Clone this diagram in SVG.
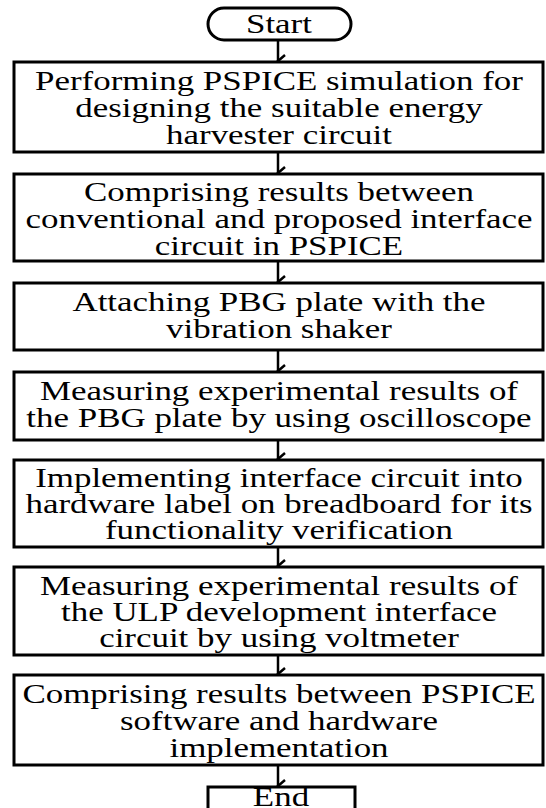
<svg xmlns="http://www.w3.org/2000/svg" width="546" height="808" viewBox="0 0 546 808">
<style>
.b{fill:#fff;stroke:#000;stroke-width:3}
.c{stroke:#000;stroke-width:2.5;fill:none}
</style>
<defs>
<marker id="ah" markerWidth="14" markerHeight="10" refX="7" refY="8" orient="auto" markerUnits="userSpaceOnUse" viewBox="0 0 14 10">
<path d="M1,1 L7,8 L13,1" fill="none" stroke="#000" stroke-width="2.5"/>
</marker>
</defs>
<rect width="546" height="808" fill="#fff"/>
<g id="connectors">
<line class="c" x1="278" y1="40" x2="278" y2="61" marker-end="url(#ah)"/>
<line class="c" x1="278" y1="152" x2="278" y2="173" marker-end="url(#ah)"/>
<line class="c" x1="278" y1="261" x2="278" y2="282" marker-end="url(#ah)"/>
<line class="c" x1="278" y1="350" x2="278" y2="371" marker-end="url(#ah)"/>
<line class="c" x1="278" y1="440" x2="278" y2="459" marker-end="url(#ah)"/>
<line class="c" x1="278" y1="547" x2="278" y2="566" marker-end="url(#ah)"/>
<line class="c" x1="278" y1="655" x2="278" y2="674" marker-end="url(#ah)"/>
<line class="c" x1="278" y1="765" x2="278" y2="786" marker-end="url(#ah)"/>
</g>
<g id="start">
<rect class="b" x="208" y="8" width="143" height="32" rx="16"/>
<text x="279" y="33" font-family="Liberation Serif, serif" font-size="27.5" text-anchor="middle" transform="matrix(1.27,0,0,1,-75.33,0)">Start</text>
</g>
<g id="step1">
<rect class="b" x="14" y="62" width="529" height="90"/>
<g font-family="Liberation Serif, serif" font-size="27.5" text-anchor="middle" transform="matrix(1.27,0,0,1,-75.33,0)">
<text x="279" y="90">Performing PSPICE simulation for</text>
<text x="279" y="117">designing the suitable energy</text>
<text x="279" y="144">harvester circuit</text>
</g>
</g>
<g id="step2">
<rect class="b" x="14" y="174" width="529" height="87"/>
<g font-family="Liberation Serif, serif" font-size="27.5" text-anchor="middle" transform="matrix(1.27,0,0,1,-75.33,0)">
<text x="279" y="201">Comprising results between</text>
<text x="279" y="228">conventional and proposed interface</text>
<text x="279" y="255">circuit in PSPICE</text>
</g>
</g>
<g id="step3">
<rect class="b" x="14" y="283" width="529" height="67"/>
<g font-family="Liberation Serif, serif" font-size="27.5" text-anchor="middle" transform="matrix(1.27,0,0,1,-75.33,0)">
<text x="279" y="311">Attaching PBG plate with the</text>
<text x="279" y="338">vibration shaker</text>
</g>
</g>
<g id="step4">
<rect class="b" x="14" y="372" width="529" height="68"/>
<g font-family="Liberation Serif, serif" font-size="27.5" text-anchor="middle" transform="matrix(1.27,0,0,1,-75.33,0)">
<text x="279" y="400">Measuring experimental results of</text>
<text x="279" y="427">the PBG plate by using oscilloscope</text>
</g>
</g>
<g id="step5">
<rect class="b" x="14" y="460" width="529" height="87"/>
<g font-family="Liberation Serif, serif" font-size="27.5" text-anchor="middle" transform="matrix(1.27,0,0,1,-75.33,0)">
<text x="279" y="487">Implementing interface circuit into</text>
<text x="279" y="513">hardware label on breadboard for its</text>
<text x="279" y="539">functionality verification</text>
</g>
</g>
<g id="step6">
<rect class="b" x="14" y="567" width="529" height="88"/>
<g font-family="Liberation Serif, serif" font-size="27.5" text-anchor="middle" transform="matrix(1.27,0,0,1,-75.33,0)">
<text x="279" y="595">Measuring experimental results of</text>
<text x="279" y="621">the ULP development interface</text>
<text x="279" y="647">circuit by using voltmeter</text>
</g>
</g>
<g id="step7">
<rect class="b" x="14" y="675" width="529" height="90"/>
<g font-family="Liberation Serif, serif" font-size="27.5" text-anchor="middle" transform="matrix(1.27,0,0,1,-75.33,0)">
<text x="279" y="703">Comprising results between PSPICE</text>
<text x="279" y="730">software and hardware</text>
<text x="279" y="757">implementation</text>
</g>
</g>
<g id="end">
<rect class="b" x="208" y="787" width="147" height="30"/>
<text x="281" y="806" font-family="Liberation Serif, serif" font-size="27.5" text-anchor="middle" transform="matrix(1.27,0,0,1,-75.87,0)">End</text>
</g>
</svg>
